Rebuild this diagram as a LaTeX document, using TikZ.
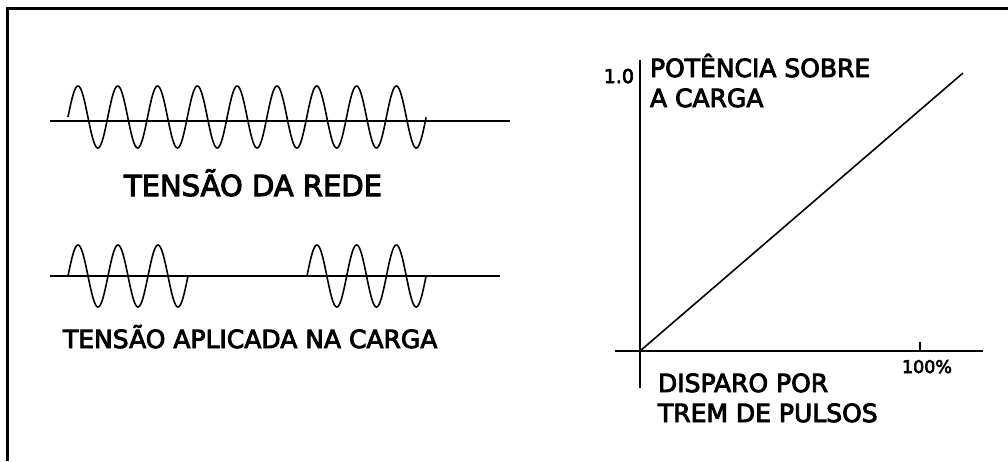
\documentclass[tikz,border=0pt]{standalone}
\usepackage{fontspec}
\setmainfont{DejaVu Sans}
\newfontfamily\medfont{DejaVu Sans}[FakeBold=3.5]
\begin{document}
\begin{tikzpicture}[x=1pt,y=-1pt,
  axisline/.style={line width=2.4pt,line cap=butt},
  wave/.style={line width=1.6pt},
  lbl/.style={inner sep=0pt,outer sep=0pt,font=\medfont\fontsize{25}{30}\selectfont},
  small/.style={inner sep=0pt,outer sep=0pt,font=\medfont\fontsize{17.5}{20}\selectfont}]
\useasboundingbox (0,0) rectangle (1008,461);
% frame (top and left edges only)
\draw[line width=2.3pt] (7.5,461) -- (7.5,8.5) -- (1008,8.5);
% top: mains voltage
\coordinate (a1) at (50,121);
\coordinate (a2) at (510,121);
\draw[axisline] (a1) -- (a2);
\draw[wave] plot[domain=0:9,samples=400] ({68+39.8*\x},{117-31*sin(360*\x)});
\node[lbl,anchor=base,font=\medfont\fontsize{29}{30}\selectfont] (rede) at (253,196) {TENSÃO DA REDE};
% bottom: load voltage
\coordinate (b1) at (50,276);
\coordinate (b2) at (500,276);
\draw[axisline] (b1) -- (b2);
\draw[wave] plot[domain=0:3,samples=150] ({68+40*\x},{276-31*sin(360*\x)});
\draw[wave] plot[domain=0:3,samples=150] ({307+39.7*\x},{276-31*sin(360*\x)});
\node[lbl,anchor=base west] (carga) at (63,348) {TENSÃO APLICADA NA CARGA};
% graph
\coordinate (o) at (640,351);
\coordinate (ytop) at (640,60);
\coordinate (ybot) at (640,388);
\coordinate (xl) at (615,351);
\coordinate (xr) at (983,351);
\coordinate (tk) at (920,351);
\coordinate (tkt) at (920,342);
\coordinate (lend) at (963,73);
\draw[axisline] (ytop) -- (ybot);
\draw[axisline] (xl) -- (xr);
\draw[line width=1.3pt] (tk) -- (tkt);
\draw[line width=1.6pt] (o) -- (lend);
\node[small,anchor=base east,font=\medfont\fontsize{19}{20}\selectfont] (one) at (634,83) {1.0};
\node[small,anchor=base] (cem) at (927,373) {100\%};
\node[lbl,anchor=base west] (pot1) at (650,77) {POTÊNCIA SOBRE};
\node[lbl,anchor=base west] (pot2) at (650,107) {A CARGA};
\node[lbl,anchor=base west] (disp1) at (658,392) {DISPARO POR};
\node[lbl,anchor=base west] (disp2) at (658,422) {TREM DE PULSOS};
\end{tikzpicture}
\end{document}
